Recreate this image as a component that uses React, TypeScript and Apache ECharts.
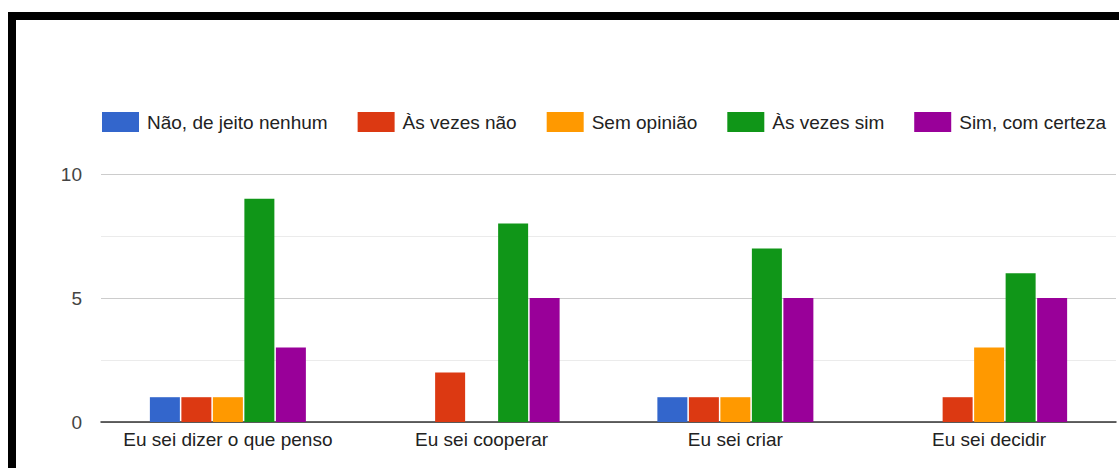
import React, { useEffect, useRef } from "react";
import * as echarts from "echarts";

const categories = ["Eu sei dizer o que penso", "Eu sei cooperar", "Eu sei criar", "Eu sei decidir"];
const seriesNames = ["Não, de jeito nenhum", "Às vezes não", "Sem opinião", "Às vezes sim", "Sim, com certeza"];
const naoJeitoNenhum = [1, 0, 1, 0];
const asVezesNao = [1, 2, 1, 1];
const semOpiniao = [1, 0, 1, 3];
const asVezesSim = [9, 8, 7, 6];
const simComCerteza = [3, 5, 5, 5];
const colors = ["#3366cc", "#dc3912", "#ff9900", "#109618", "#990099"];

export default function App() {
  const ref = useRef<HTMLDivElement>(null);
  useEffect(() => {
    if (!ref.current) return;
    const chart = echarts.init(ref.current, null, { renderer: "svg" });
    const values = [naoJeitoNenhum, asVezesNao, semOpiniao, asVezesSim, simComCerteza];
    const font = "Arial, 'Liberation Sans', sans-serif";
    chart.setOption({
      animation: false,
      color: colors,
      legend: {
        top: 112,
        left: 102,
        padding: 0,
        itemWidth: 37,
        itemHeight: 20,
        itemGap: 30,
        icon: "rect",
        textStyle: { fontSize: 19, color: "#222", fontFamily: font, padding: [0, 0, 0, 3] },
        data: seriesNames,
      },
      grid: { left: 101, right: 3, top: 174, bottom: 46, containLabel: false },
      xAxis: {
        type: "category",
        data: categories,
        axisLine: { show: true, lineStyle: { color: "#333", width: 1.5 } },
        axisTick: { show: false },
        axisLabel: { fontSize: 19, color: "#222", fontFamily: font, margin: 8, interval: 0 },
        splitLine: { show: false },
      },
      yAxis: {
        type: "value",
        min: 0,
        max: 10,
        interval: 5,
        axisLine: { show: false },
        axisTick: { show: false },
        axisLabel: { fontSize: 19, color: "#444", fontFamily: font, margin: 19 },
        splitLine: { show: true, lineStyle: { color: "#cccccc", width: 1 } },
        minorTick: { show: false, splitNumber: 2 },
        minorSplitLine: { show: true, lineStyle: { color: "#ebebeb", width: 1 } },
      },
      series: seriesNames.map((name, i) => ({
        name,
        type: "bar",
        data: values[i],
        barWidth: 30,
        barGap: "5%",
        itemStyle: { color: colors[i] },
      })),
    });
    return () => chart.dispose();
  }, []);
  return (
    <div style={{ position: "fixed", left: 0, top: 0, width: 1119, height: 468, overflow: "hidden", background: "#fff" }}>
      <div
        style={{
          position: "absolute",
          left: 8,
          top: 12,
          width: 2000,
          height: 2000,
          borderLeft: "8px solid #000",
          borderTop: "8px solid #000",
        }}
      />
      <div ref={ref} style={{ position: "absolute", left: 0, top: 0, width: 1119, height: 468 }} />
    </div>
  );
}
